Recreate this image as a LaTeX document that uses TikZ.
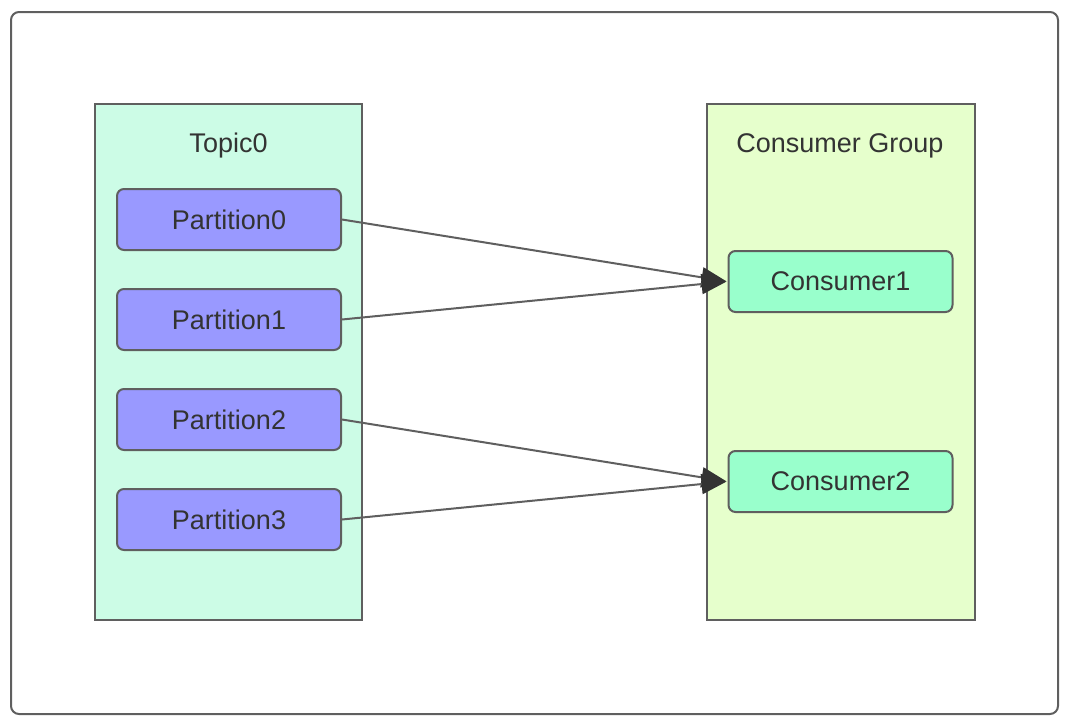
\documentclass[tikz,border=0pt]{standalone}
\usepackage{fontspec}
\setmainfont{Liberation Sans}
\usetikzlibrary{arrows.meta}
\definecolor{stroke}{HTML}{5F5F5F}
\definecolor{txt}{HTML}{333333}
\definecolor{topicfill}{HTML}{CCFCE6}
\definecolor{groupfill}{HTML}{E6FFCC}
\definecolor{partfill}{HTML}{9999FF}
\definecolor{consfill}{HTML}{99FFCC}
\tikzset{
  container/.style={draw=stroke, line width=2pt, inner sep=0pt},
  part/.style={draw=stroke, line width=2pt, rounded corners=7pt, fill=partfill, minimum width=224pt, minimum height=61pt, inner sep=0pt, text=txt, font=\fontsize{27}{32}\selectfont},
  cons/.style={part, fill=consfill},
  title/.style={text=txt, font=\fontsize{27}{32}\selectfont},
  link/.style={draw=stroke, line width=2pt, -{Triangle[length=25pt,width=20pt,color=txt]}, shorten >=1pt}
}
\begin{document}
\begin{tikzpicture}[x=1pt,y=-1pt]
\useasboundingbox (0,0) rectangle (1076,728);
\draw[draw=stroke, line width=2pt, rounded corners=8pt] (11,12) rectangle (1058,714);
\fill[topicfill] (95,104) rectangle (362,620);
\draw[container] (95,104) rectangle (362,620);
\fill[groupfill] (707,104) rectangle (975,620);
\draw[container] (707,104) rectangle (975,620);
\node[title] (topic) at (228.5,146) {Topic0};
\node[title] (group) at (840,146) {Consumer Group};
\node[part] (p0) at (229,219.5) {Partition0};
\node[part] (p1) at (229,319.5) {Partition1};
\node[part] (p2) at (229,419.5) {Partition2};
\node[part] (p3) at (229,519.5) {Partition3};
\node[cons] (c1) at (840.5,281.5) {Consumer1};
\node[cons] (c2) at (840.5,481.5) {Consumer2};
\draw[link] (p0.east) -- (c1.west);
\draw[link] (p1.east) -- (c1.west);
\draw[link] (p2.east) -- (c2.west);
\draw[link] (p3.east) -- (c2.west);
\end{tikzpicture}
\end{document}
